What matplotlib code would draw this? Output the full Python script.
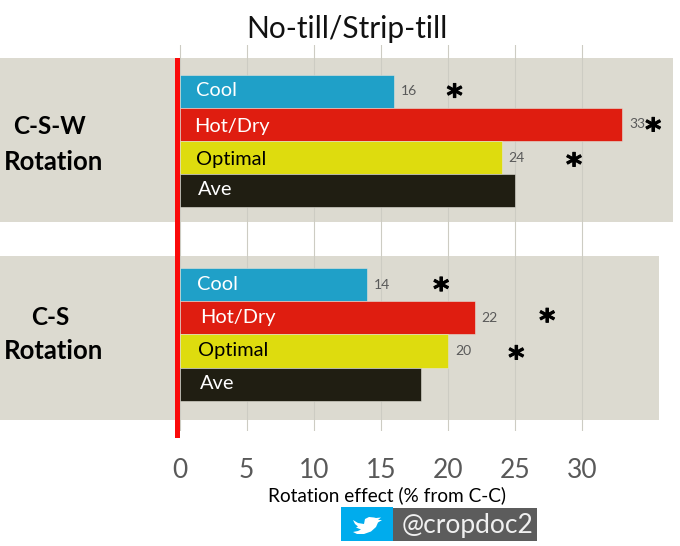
import numpy as np
import matplotlib
matplotlib.use('Agg')
import matplotlib.pyplot as plt
from matplotlib.patches import Rectangle, Polygon
import matplotlib.patheffects as pe

plt.rcParams['font.family'] = ['Lato', 'DejaVu Sans']

# data
categories = ['Cool', 'Hot/Dry', 'Optimal', 'Ave']
csw_values = [16, 33, 24, 25]
cs_values = [14, 22, 20, 18]
csw_labels = ['16', '33', '24', '']
cs_labels = ['14', '22', '20', '']
x_ticks = [0, 5, 10, 15, 20, 25, 30]
# asterisk positions on the value axis
csw_stars = [20.5, 35.3, 29.4]
cs_stars = [19.5, 27.4, 25.1]

colors = ['#1FA0C8', '#DF1D10', '#DEDC0E', '#201E12']
text_colors = ['white', 'white', 'black', 'white']
panel_color = '#DCDAD0'

W, H = 680, 546
fig = plt.figure(figsize=(W / 100, H / 100), dpi=100)

# axes is as wide as the figure, y runs in pixels from the top
ax = fig.add_axes([0, (H - 431) / H, 1, (431 - 45) / H])
ax.set_xlim(-179.5 / 13.42, (W - 179.5) / 13.42)
ax.set_ylim(431, 45)

for s in ax.spines.values():
    s.set_visible(False)
ax.set_yticks([])
ax.set_xticks(x_ticks)
ax.tick_params(axis='x', length=0, labelsize=19, labelcolor='#595959', pad=19.5)
ax.grid(axis='x', color='#CDCCC3', lw=0.8, zorder=2)
ax.set_axisbelow(False)

# background panels
x0 = ax.get_xlim()[0]
ax.add_patch(Rectangle((x0, 58), (673 / 13.42), 164, fc=panel_color, ec='none', zorder=1))
ax.add_patch(Rectangle((x0, 256), (658.5 / 13.42), 164, fc=panel_color, ec='none', zorder=1))


def draw_group(values, labels, stars, star_dy, top, text_x, text_y):
    h = 33.2
    y = top + h * np.arange(4) + h / 2
    bars = ax.barh(y, values, height=h, color=colors, edgecolor='#E4E3DA', linewidth=0.4, zorder=3)
    ax.bar_label(bars, labels=labels, padding=5, fontsize=10, color='#595959', zorder=4)
    for i, name in enumerate(categories):
        ax.text(text_x[i], text_y[i], name, color=text_colors[i], fontsize=14.4,
                ha='left', va='center', zorder=5)
    for i, sx in enumerate(stars):
        t = ax.text(sx, y[i] + 6.5 + star_dy[i], '*', fontsize=22, fontweight='bold', family='DejaVu Sans',
                    ha='center', va='center', color='black', zorder=5)
        t.set_path_effects([pe.withStroke(linewidth=0.7, foreground='black')])


draw_group(csw_values, csw_labels, csw_stars, [0, 0.7, 2.5], 74.5,
           [1.25, 1.1, 1.25, 1.4], [90.5, 126.5, 160, 189.5])
draw_group(cs_values, cs_labels, cs_stars, [0, -2, 2], 268,
           [1.33, 1.5, 1.4, 1.5], [284.5, 317.5, 350.5, 383.5])

# red line at zero
ax.add_patch(Rectangle((-0.3, 58), 0.3, 380, fc='#FA0A0A', ec='none', zorder=6, clip_on=False))

# row titles
ax.text(-9.65, 127, 'C-S-W', fontsize=17.5, fontweight='bold', ha='center', va='center')
ax.text(-9.39, 162, 'Rotation', fontsize=18.5, fontweight='bold', ha='center', va='center')
ax.text(-9.6, 317.5, 'C-S', fontsize=17.5, fontweight='bold', ha='center', va='center')
ax.text(-9.39, 351, 'Rotation', fontsize=18.5, fontweight='bold', ha='center', va='center')

fig.text(347 / W, 1 - 29 / H, 'No-till/Strip-till', fontsize=21.5, ha='center', va='center', color='#111111')
fig.text(387.5 / W, 1 - 495 / H, 'Rotation effect (% from C-C)', fontsize=13.7, ha='center', va='center')

# twitter badge
badge = fig.add_axes([341 / W, (H - 541) / H, 196 / W, 34 / H])
badge.set_xlim(341, 537)
badge.set_ylim(541, 507)
badge.axis('off')
badge.add_patch(Rectangle((341, 507), 52, 34, fc='#00ACED', ec='none'))
badge.add_patch(Rectangle((393, 507.5), 144, 33.5, fc='#5C5C5C', ec='none'))
bird = [(353, 520), (358, 523), (364, 524), (365, 519), (369, 517), (374, 517.5), (376, 518),
        (381, 517.5), (378, 520), (382, 520), (378, 522.5), (376, 527), (371, 531.5), (364, 534),
        (357, 534), (353, 532), (358, 531), (361, 529.5), (356, 527.5), (358, 526.5), (355, 524)]
badge.add_patch(Polygon(bird, closed=True, fc='white', ec='none'))
badge.text(402, 525, '@cropdoc2', color='#F0F0F0', fontsize=19, ha='left', va='center')

fig.savefig('out.png', dpi=100)
